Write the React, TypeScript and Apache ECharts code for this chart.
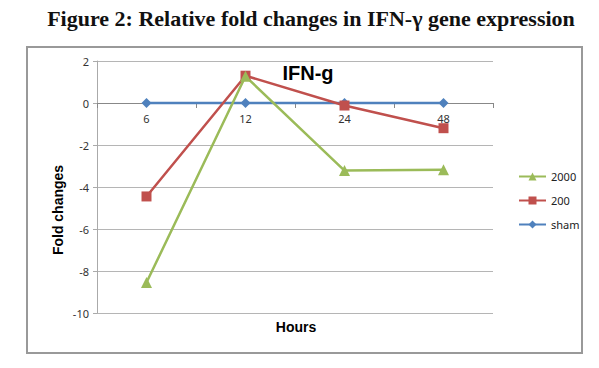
import React, { useEffect, useRef } from "react";
import * as echarts from "echarts";

const categories = ["6", "12", "24", "48"];
const sham = [0, 0, 0, 0];
const dose200 = [-4.45, 1.3, -0.12, -1.2];
const dose2000 = [-8.55, 1.27, -3.22, -3.18];
const legendOrder = ["2000", "200", "sham"];

export default function App() {
  const ref = useRef<HTMLDivElement>(null);
  useEffect(() => {
    const chart = echarts.init(ref.current!, null, { renderer: "svg" });
    const lbl = { fontFamily: "Noto Sans", fontSize: 11, color: "#333" };
    chart.setOption({
      animation: false,
      backgroundColor: "#fff",
      title: [
        {
          text: "Figure 2: Relative fold changes in IFN-γ gene expression",
          left: 306,
          textAlign: "center",
          top: 2,
          textStyle: { fontFamily: "Liberation Serif", fontWeight: "bold", fontSize: 22, color: "#111" },
        },
        {
          text: "IFN-g",
          left: 303,
          textAlign: "center",
          top: 58,
          textStyle: { fontFamily: "Liberation Sans", fontWeight: "bold", fontSize: 20, color: "#000" },
        },
      ],
      graphic: [
        {
          type: "rect",
          shape: { x: 27, y: 47, width: 555, height: 306 },
          style: { fill: "none", stroke: "#999", lineWidth: 2 },
          z: -1,
        },
        {
          type: "text",
          x: 58,
          y: 210,
          rotation: Math.PI / 2,
          style: {
            text: "Fold changes",
            align: "center",
            verticalAlign: "middle",
            fontFamily: "Liberation Sans",
            fontWeight: "bold",
            fontSize: 14,
            fill: "#000",
          },
        },
        {
          type: "text",
          x: 296,
          y: 327,
          style: {
            text: "Hours",
            align: "center",
            verticalAlign: "middle",
            fontFamily: "Liberation Sans",
            fontWeight: "bold",
            fontSize: 14,
            fill: "#000",
          },
        },
      ],
      legend: {
        orient: "vertical",
        left: 513,
        top: 166,
        itemWidth: 27,
        itemHeight: 10,
        itemGap: 13,
        data: legendOrder,
        textStyle: { fontFamily: "Noto Sans", fontSize: 11, color: "#222" },
      },
      grid: { left: 97, right: 106, top: 61, bottom: 55 },
      xAxis: {
        type: "category",
        data: categories,
        boundaryGap: true,
        offset: -210,
        axisLine: { onZero: false, lineStyle: { color: "#888", width: 1 } },
        axisTick: { show: true, length: 5, lineStyle: { color: "#888" } },
        axisLabel: { ...lbl, margin: 10 },
      },
      yAxis: {
        type: "value",
        min: -10,
        max: 2,
        interval: 2,
        axisLine: { show: true, lineStyle: { color: "#aaa" } },
        axisTick: { show: true, length: 4, lineStyle: { color: "#aaa" } },
        splitLine: { lineStyle: { color: "#b5b5b5" } },
        axisLabel: { ...lbl, margin: 8 },
      },
      series: [
        {
          name: "sham",
          type: "line",
          data: sham,
          symbol: "diamond",
          symbolSize: 10,
          color: "#4F81BD",
          lineStyle: { width: 2.5 },
        },
        {
          name: "200",
          type: "line",
          data: dose200,
          symbol: "rect",
          symbolSize: 10,
          color: "#C0504D",
          lineStyle: { width: 2.5 },
        },
        {
          name: "2000",
          type: "line",
          data: dose2000,
          symbol: "triangle",
          symbolSize: 11,
          color: "#9BBB59",
          lineStyle: { width: 2.5 },
        },
      ],
    });
    return () => chart.dispose();
  }, []);
  return (
    <div
      ref={ref}
      style={{ position: "absolute", left: 0, top: 0, width: 599, height: 368 }}
    />
  );
}
